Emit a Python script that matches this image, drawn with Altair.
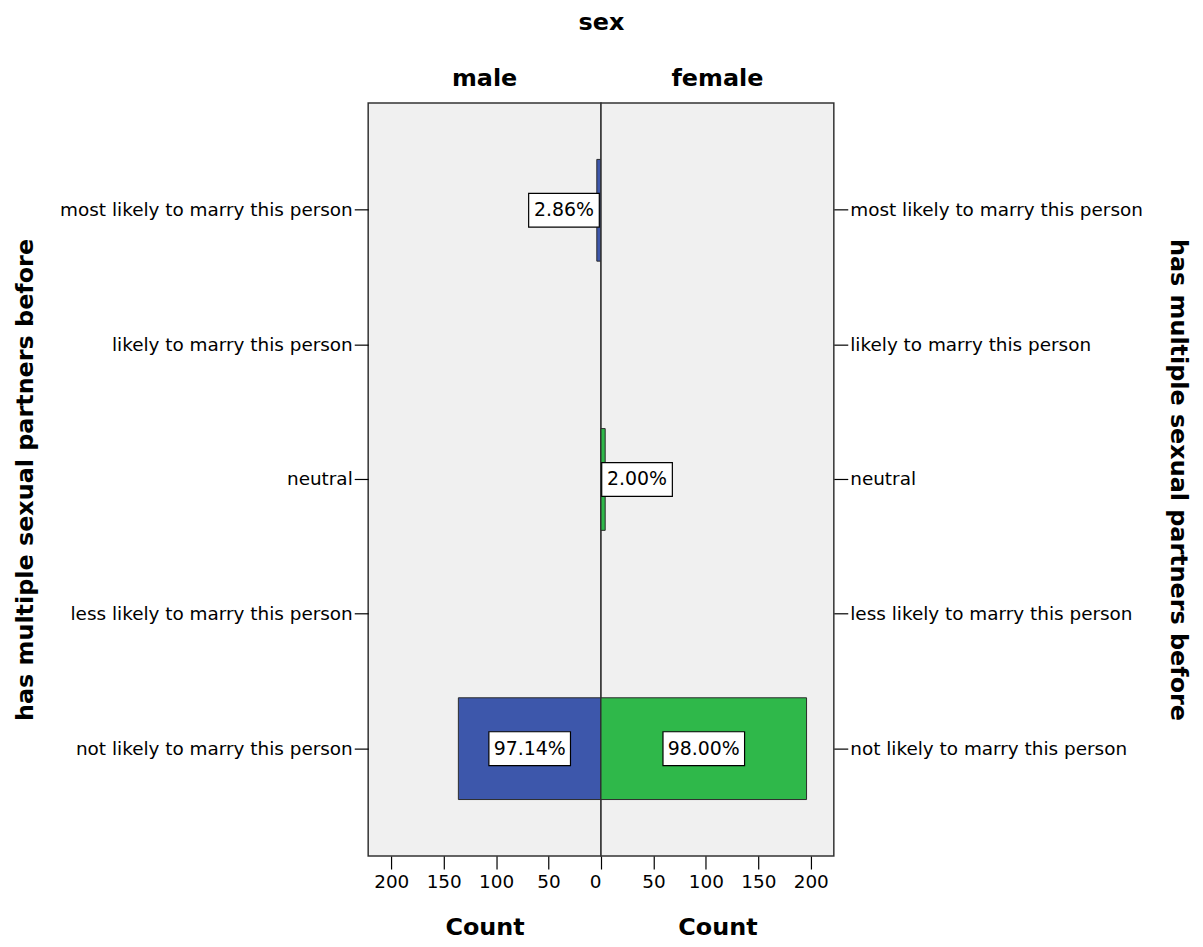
import altair as alt
import pandas as pd

categories = [
    "most likely to marry this person",
    "likely to marry this person",
    "neutral",
    "less likely to marry this person",
    "not likely to marry this person",
]
male_counts = [4, 0, 0, 0, 136]
female_counts = [0, 0, 4, 0, 196]
male_labels = ["2.86%", "", "", "", "97.14%"]
female_labels = ["", "", "2.00%", "", "98.00%"]
x_ticks = [0, 50, 100, 150, 200]

FONT = "DejaVu Sans"
BLUE = "#3d57ab"
GREEN = "#2fb84a"
W, H = 234, 757

BIG_BOX = "M-1,-0.4146L1,-0.4146L1,0.4146L-1,0.4146Z"
SMALL_BOX = "M-1,-0.4789L1,-0.4789L1,0.4789L-1,0.4789Z"


def panel(sex, counts, labels, color, left):
    df = pd.DataFrame({"category": categories, "count": counts, "label": labels})
    base = alt.Chart(df)
    yscale = alt.Scale(domain=categories, paddingInner=0.244, paddingOuter=0.42)
    xscale = alt.Scale(domain=[0, 222], nice=False, zero=True, reverse=left)
    yaxis = alt.Axis(
        orient="left" if left else "right",
        title="has multiple sexual partners before",
        tickSize=14,
        labelPadding=2,
        labelLimit=400,
        titleX=-344 if left else 345,
        titleY=H / 2,
        titleAlign="center",
        titleBaseline="middle",
    )
    xaxis = alt.Axis(
        values=x_ticks if left else x_ticks[1:],
        title="Count",
        tickSize=13,
        labelPadding=4,
        titlePadding=24,
    )
    y = alt.Y("category:N", sort=categories, scale=yscale, axis=yaxis)
    x = alt.X("count:Q", scale=xscale, axis=xaxis)
    xm = alt.X("mid:Q", scale=xscale, axis=xaxis)

    bars = base.transform_filter("datum.count > 0").mark_bar(
        color=color, stroke="#2b2b2b", strokeWidth=1, opacity=1
    ).encode(x=x, y=y)

    big = base.transform_filter("datum.count >= 20").transform_calculate(mid="datum.count / 2")
    big_box = big.mark_point(
        shape=BIG_BOX, size=6724, filled=True, fill="white", stroke="black",
        strokeWidth=1.2, opacity=1,
    ).encode(x=xm, y=y)
    big_text = big.mark_text(font=FONT, fontSize=19, color="black").encode(
        x=xm, y=y, text="label:N"
    )

    off = -33 if left else 32
    small = base.transform_filter("datum.count > 0 && datum.count < 20")
    small_box = small.mark_point(
        shape=SMALL_BOX, size=5041, filled=True, fill="white", stroke="black",
        strokeWidth=1.2, opacity=1, xOffset=off,
    ).encode(x=x, y=y)
    small_text = small.mark_text(font=FONT, fontSize=19, color="black", xOffset=off).encode(
        x=x, y=y, text="label:N"
    )

    return alt.layer(bars, big_box, big_text, small_box, small_text).properties(
        width=W,
        height=H,
        title=alt.TitleParams(
            sex, font=FONT, fontSize=24, fontWeight="bold", color="black",
            anchor="middle", frame="group", offset=12,
        ),
    )


left = panel("male", male_counts, male_labels, BLUE, True)
right = panel("female", female_counts, female_labels, GREEN, False)

chart = alt.hconcat(
    left, right, spacing=0, bounds="flush",
    title=alt.TitleParams("sex", font=FONT, fontSize=24, fontWeight="bold",
                          color="black", anchor="middle", offset=32),
).properties(
    padding={"left": 5, "top": 0, "right": 5, "bottom": 0},
).configure_view(
    fill="#f0f0f0", stroke="#333333", strokeWidth=1.5,
).configure_axis(
    labelFont=FONT, labelFontSize=18.5, labelColor="black",
    titleFont=FONT, titleFontSize=24, titleFontWeight="bold", titleColor="black",
    tickColor="black", tickWidth=1.2, domain=False, grid=False,
)

chart.save("out.html", embed_options={"renderer": "svg", "actions": False})
